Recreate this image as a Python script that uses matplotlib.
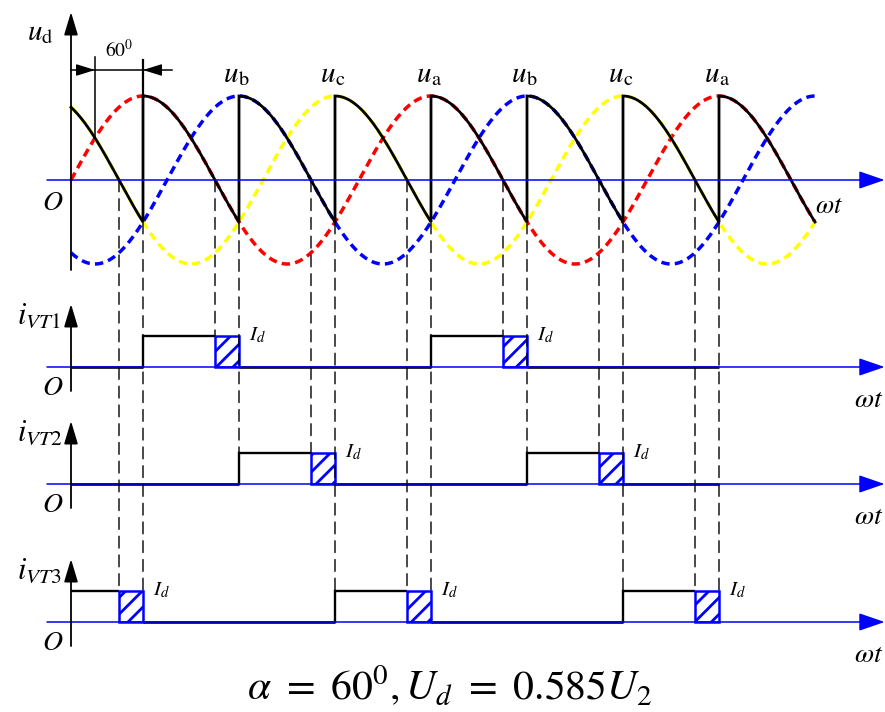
import numpy as np
import matplotlib
matplotlib.use('Agg')
import matplotlib.pyplot as plt
from matplotlib.patches import Rectangle, ConnectionPatch

plt.rcParams['mathtext.fontset'] = 'stix'
plt.rcParams['font.family'] = ['STIXGeneral', 'DejaVu Serif']
plt.rcParams['hatch.linewidth'] = 2.0
plt.rcParams['hatch.color'] = '#0000ff'

# ---------------- data ----------------
phase_names = ['a', 'b', 'c']
phase_shift_deg = [0, -120, 120]
phase_colors = ['#ff0000', '#0000ff', '#ffff00']
amplitude = 1.0
wt_end = 930                      # degrees shown for the waves

alpha_deg = 60
firing_angles = [90, 210, 330, 450, 570, 690, 810]
conducting_phase = ['c', 'a', 'b', 'c', 'a', 'b', 'c', 'a']
peak_label_angles = [210, 330, 450, 570, 690, 810]
peak_label_names = ['b', 'c', 'a', 'b', 'c', 'a']

vt_names = ['VT1', 'VT2', 'VT3']
vt1_start = [90, 450];      vt1_neg = [180, 540];      vt1_end = [210, 570]
vt2_start = [210, 570];     vt2_neg = [300, 660];      vt2_end = [330, 690]
vt3_start = [0, 330, 690];  vt3_neg = [60, 420, 780];  vt3_end = [90, 450, 810]
current_end = 810
Id = 1.0

formula = r'$\alpha\ =\ 60^0,U_d\ =\ 0.585U_2$'

# ---------------- layout ----------------
W, H = 885, 712
fig = plt.figure(figsize=(W / 100, H / 100), dpi=100)
x0_px, px_per_deg = 71, 0.8
xlim = (-x0_px / px_per_deg, (W - x0_px) / px_per_deg)


def make_ax(zero_px, px_per_unit, top_px, bot_px):
    ax = fig.add_axes([0, 1 - bot_px / H, 1, (bot_px - top_px) / H])
    ax.set_xlim(*xlim)
    ax.set_ylim((zero_px - bot_px) / px_per_unit, (zero_px - top_px) / px_per_unit)
    ax.axis('off')
    ax.patch.set_alpha(0)
    return ax


def phase_v(name, t):
    sh = phase_shift_deg[phase_names.index(name)]
    return amplitude * np.sin(np.radians(np.asarray(t) + sh))


def ud_at(a):
    k = int(np.searchsorted(firing_angles, a, side='left'))
    return float(phase_v(conducting_phase[k], a))


blue = '#0000ff'
ax_left_deg = (47 - x0_px) / px_per_deg
blue_arrow = dict(arrowstyle='-|>,head_length=1.6,head_width=0.55', color=blue,
                  lw=1.1, shrinkA=0, shrinkB=0, mutation_scale=10)
black_arrow = dict(arrowstyle='-|>,head_length=1.4,head_width=0.42', color='black',
                   lw=1.3, shrinkA=0, shrinkB=0, mutation_scale=10)

# ---------------- top panel ----------------
top_zero, top_scale = 180, 84
ax = make_ax(top_zero, top_scale, 0, 300)

ax.annotate('', xy=(xlim[1] - 0.5, 0), xytext=(ax_left_deg, 0), arrowprops=blue_arrow)
ax.annotate('', xy=(0, (top_zero - 12) / top_scale), xytext=(0, (top_zero - 270) / top_scale),
            arrowprops=black_arrow)

t = np.linspace(0, wt_end, 1200)
for name, col in zip(phase_names, phase_colors):
    ax.plot(t, phase_v(name, t), color=col, lw=2.5, dashes=(2.4, 1.5), clip_on=False)

bounds = [0] + firing_angles + [wt_end]
ud_x, ud_y = [], []
for k, ph in enumerate(conducting_phase):
    tt = np.linspace(bounds[k], bounds[k + 1], 200)
    ud_x.append(tt)
    ud_y.append(phase_v(ph, tt))
ax.plot(np.concatenate(ud_x), np.concatenate(ud_y), color='black', lw=2.0,
        solid_joinstyle='miter', clip_on=False)

# 60 degree dimension
nat = firing_angles[0] - alpha_deg
dim_y = (top_zero - 70) / top_scale
ax.plot([0, (172 - x0_px) / px_per_deg], [dim_y, dim_y], color='black', lw=1.1)
ax.plot([nat, nat], [(top_zero - 57) / top_scale, float(phase_v('a', nat))],
        color='black', lw=1.1)
ax.plot([firing_angles[0]] * 2, [(top_zero - 60) / top_scale, 1.0], color='black', lw=1.6)
small_arrow = dict(arrowstyle='-|>,head_length=1.15,head_width=0.36', color='black',
                   lw=1.0, shrinkA=0, shrinkB=0, mutation_scale=10)
ax.annotate('', xy=(nat, dim_y), xytext=(nat - 20, dim_y), arrowprops=small_arrow)
ax.annotate('', xy=(firing_angles[0], dim_y), xytext=(firing_angles[0] + 20, dim_y),
            arrowprops=small_arrow)
ax.text((nat + firing_angles[0]) / 2, (top_zero - 57) / top_scale, r'$%d^0$' % alpha_deg,
        ha='center', va='baseline', fontsize=14)

# labels
ax.text((27 - x0_px) / px_per_deg, (top_zero - 40) / top_scale, r'$u_\mathrm{d}$',
        ha='left', va='baseline', fontsize=21)
ax.text((42 - x0_px) / px_per_deg, (top_zero - 210) / top_scale, r'$O$',
        ha='left', va='baseline', fontsize=20)
ax.text((843 - x0_px) / px_per_deg, (top_zero - 213) / top_scale, r'$\omega t$',
        ha='right', va='baseline', fontsize=19)
for a, nm in zip(peak_label_angles, peak_label_names):
    ax.text(a - 3, 1.16, r'$u\mathrm{_%s}$' % nm, ha='center', va='baseline', fontsize=21)
ax_top = ax

# ---------------- current panels ----------------
low_scale = 31
baselines = [367, 484, 622]
panels = [(vt1_start, vt1_neg, vt1_end), (vt2_start, vt2_neg, vt2_end),
          (vt3_start, vt3_neg, vt3_end)]
low_axes = []
for bpx, (st, ng, en), nm in zip(baselines, panels, vt_names):
    ax = make_ax(bpx, low_scale, bpx - 95, bpx + 45)
    ax.annotate('', xy=(xlim[1] - 0.5, 0), xytext=(ax_left_deg, 0), arrowprops=blue_arrow)
    ax.annotate('', xy=(0, 63 / low_scale), xytext=(0, -24 / low_scale), arrowprops=black_arrow)
    # off intervals (black baseline)
    prev = 0
    for s, e in zip(st, en):
        if s > prev:
            ax.plot([prev, s], [0, 0], color='black', lw=1.9, solid_capstyle='butt')
        prev = e
    if prev < current_end:
        ax.plot([prev, current_end], [0, 0], color='black', lw=1.9, solid_capstyle='butt')
    for s, n, e in zip(st, ng, en):
        if s > 0:
            ax.plot([s, s], [0, Id], color='black', lw=1.7)
        ax.plot([s, n], [Id, Id], color='black', lw=1.7, solid_capstyle='butt')
        ax.add_patch(Rectangle((n, 0), e - n, Id, fill=False, edgecolor=blue,
                               hatch='//', lw=1.8, zorder=3))
        ax.text(e + 13, Id - 4 / low_scale, r'$I_d$', ha='left', va='baseline', fontsize=15)
    ax.text((42 - x0_px) / px_per_deg, -28 / low_scale, r'$O$', ha='left', va='baseline',
            fontsize=20)
    ax.text((883 - x0_px) / px_per_deg, -40 / low_scale, r'$\omega t$', ha='right',
            va='baseline', fontsize=20)
    ax.text((17 - x0_px) / px_per_deg, 43 / low_scale, r'$i_{%s}$' % nm, ha='left',
            va='baseline', fontsize=22)
    low_axes.append(ax)

# ---------------- dashed guide lines ----------------
guide_angles = sorted(set(vt1_neg + vt2_neg + vt3_neg + vt1_end + vt2_end + vt3_end))
for a in guide_angles:
    last = max(i for i, (st, ng, en) in enumerate(panels) if a in st or a in ng or a in en)
    cp = ConnectionPatch(xyA=(a, ud_at(a)), coordsA=ax_top.transData,
                         xyB=(a, Id), coordsB=low_axes[last].transData,
                         color='black', lw=1.0, linestyle=(0, (8.5, 5)))
    fig.add_artist(cp)

fig.text(450 / W, 1 - 700 / H, formula, ha='center', va='baseline', fontsize=30)

fig.savefig('out.png', dpi=100)
